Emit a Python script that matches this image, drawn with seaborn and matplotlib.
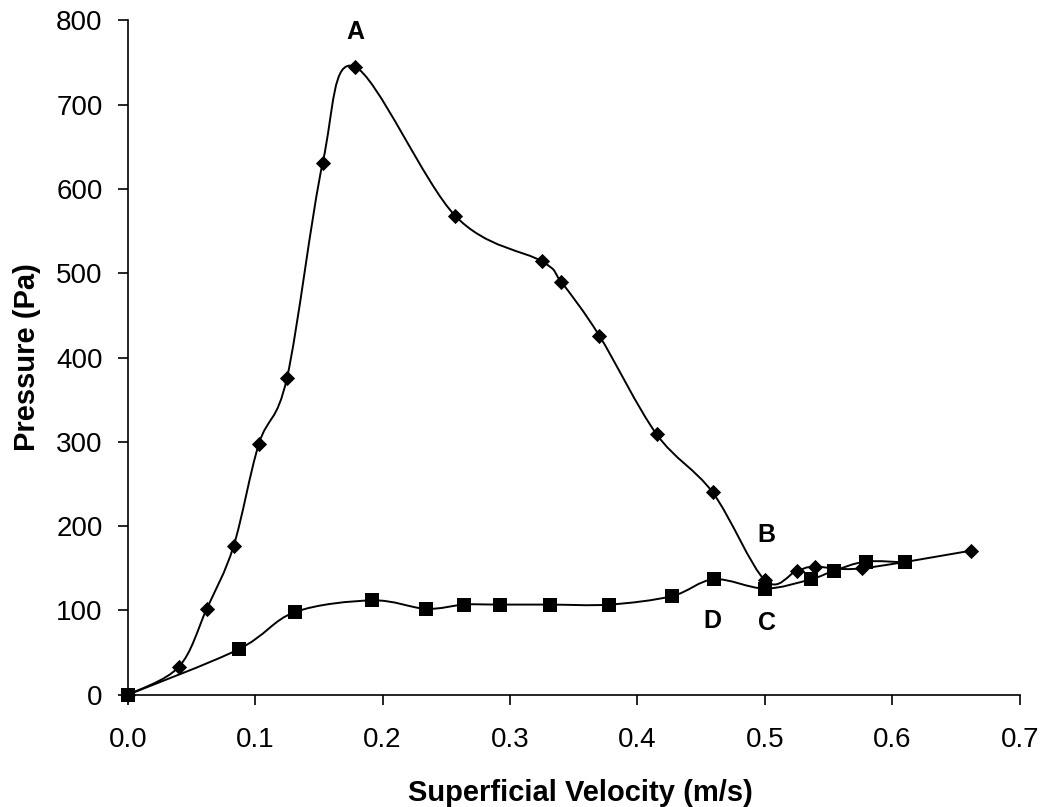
import numpy as np
import pandas as pd
import matplotlib
matplotlib.use("Agg")
import matplotlib.pyplot as plt
from matplotlib.path import Path
from matplotlib.patches import PathPatch
import seaborn as sns

# Pressure vs superficial velocity: rising-velocity run (diamonds)
vel_up = [0.0, 0.040, 0.062, 0.083, 0.103, 0.125, 0.153, 0.178, 0.257,
          0.325, 0.340, 0.370, 0.415, 0.459, 0.500, 0.525, 0.539, 0.576, 0.662]
p_up = [0, 33, 102, 176, 298, 376, 631, 745, 568,
        514, 490, 426, 309, 240, 136, 147, 152, 150, 171]

# Falling-velocity run (squares)
vel_down = [0.0, 0.087, 0.131, 0.192, 0.234, 0.264, 0.292, 0.331, 0.378,
            0.427, 0.460, 0.500, 0.536, 0.554, 0.579, 0.610]
p_down = [0, 54, 98, 112, 102, 107, 107, 107, 107,
          117, 137, 126, 137, 147, 158, 157]

# Point annotations
point_labels = ["A", "B", "D", "C"]
label_x = [0.179, 0.501, 0.459, 0.502]
label_y = [786, 189, 87, 85]

x_ticks = [0.0, 0.1, 0.2, 0.3, 0.4, 0.5, 0.6, 0.7]
y_ticks = [0, 100, 200, 300, 400, 500, 600, 700, 800]

sns.set_theme(style="ticks")
plt.rcParams["font.family"] = ["Liberation Sans", "DejaVu Sans"]


def smooth_path(xs, ys):
    """Catmull-Rom style cubic Bezier path through the points."""
    pts = np.column_stack([xs, ys]).astype(float)
    verts = [tuple(pts[0])]
    codes = [Path.MOVETO]
    n = len(pts)
    for i in range(n - 1):
        p0 = pts[i - 1] if i > 0 else pts[i]
        p1 = pts[i]
        p2 = pts[i + 1]
        p3 = pts[i + 2] if i + 2 < n else pts[i + 1]
        c1 = p1 + (p2 - p0) / 6.0
        c2 = p2 - (p3 - p1) / 6.0
        verts += [tuple(c1), tuple(c2), tuple(p2)]
        codes += [Path.CURVE4] * 3
    return Path(verts, codes)


fig = plt.figure(figsize=(10.47, 8.07), dpi=100)
ax = fig.add_axes([0.122, 0.139, 0.852, 0.836])

df_up = pd.DataFrame({"v": vel_up, "p": p_up})
df_down = pd.DataFrame({"v": vel_down, "p": p_down})

ax.add_patch(PathPatch(smooth_path(vel_up, p_up), fill=False,
                       edgecolor="black", lw=1.4, zorder=2))
sns.scatterplot(data=df_up, x="v", y="p", marker="D", s=60, color="black",
                edgecolor="black", linewidth=0, ax=ax, zorder=3,
                clip_on=False)

ax.add_patch(PathPatch(smooth_path(vel_down, p_down), fill=False,
                       edgecolor="black", lw=1.4, zorder=4))
sns.scatterplot(data=df_down, x="v", y="p", marker="s", s=95, color="black",
                edgecolor="black", linewidth=0, ax=ax, zorder=5,
                clip_on=False)

for t, x, y in zip(point_labels, label_x, label_y):
    ax.text(x, y, t, ha="center", va="center", fontsize=18,
            fontweight="bold", color="black")

ax.set_xlim(0, 0.7)
ax.set_ylim(0, 800)
ax.set_xticks(x_ticks)
ax.set_yticks(y_ticks)
ax.set_xticklabels([f"{v:.1f}" for v in x_ticks])
ax.set_yticklabels([str(v) for v in y_ticks])
ax.tick_params(axis="both", labelsize=20, length=7, width=1.2,
               color="black", labelcolor="black")
ax.tick_params(axis="x", pad=16)
ax.tick_params(axis="y", pad=11)

ax.set_xlabel("Superficial Velocity (m/s)", fontsize=21, fontweight="bold",
              color="black", labelpad=20)
ax.set_ylabel("Pressure (Pa)", fontsize=21, fontweight="bold",
              color="black", labelpad=11)
ax.xaxis.set_label_coords(0.507, -0.125)

for side in ("top", "right"):
    ax.spines[side].set_visible(False)
for side in ("left", "bottom"):
    ax.spines[side].set_color("black")
    ax.spines[side].set_linewidth(1.2)

ax.patch.set_facecolor("white")
fig.patch.set_facecolor("white")
fig.savefig("out.png", dpi=100)
